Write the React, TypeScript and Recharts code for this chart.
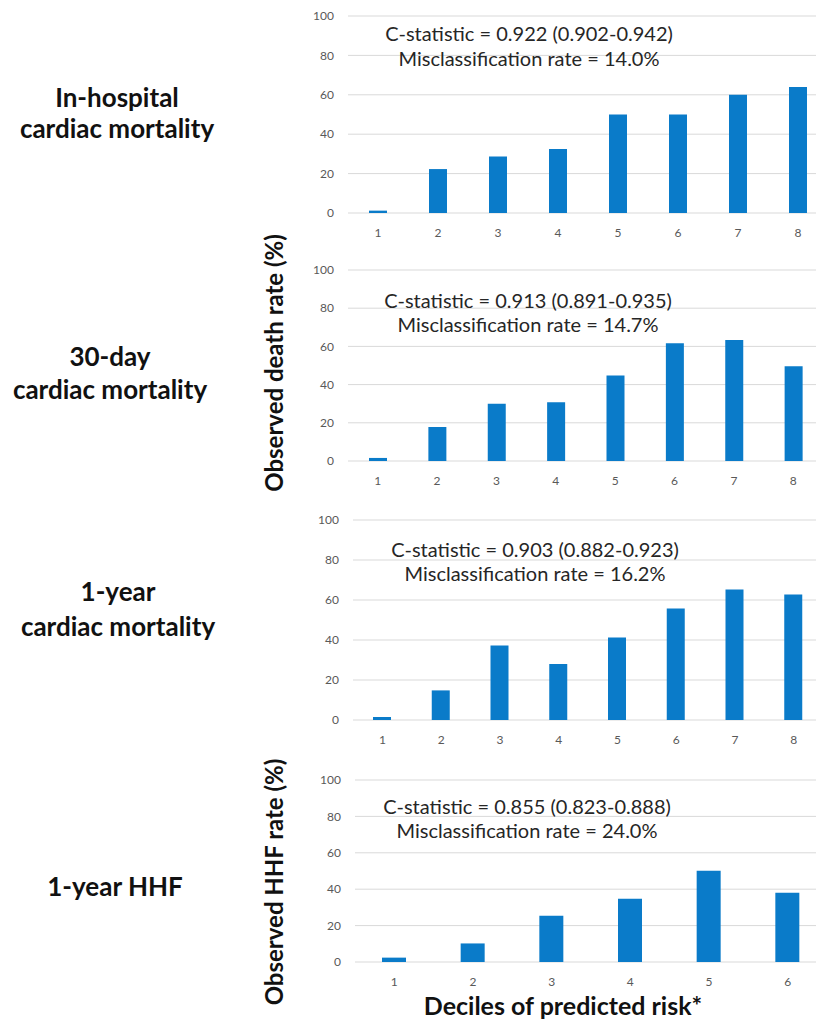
import React from 'react';
import { BarChart, Bar, XAxis, YAxis, CartesianGrid } from 'recharts';

// ---- data ----
const deciles8 = ['1', '2', '3', '4', '5', '6', '7', '8'];
const deciles6 = ['1', '2', '3', '4', '5', '6'];
const yTicks = [0, 20, 40, 60, 80, 100];

const inHospitalRate = [1.2, 22.3, 28.7, 32.5, 50, 50, 60, 64];
const day30Rate = [1.6, 17.8, 30, 30.7, 44.7, 61.6, 63.4, 49.6];
const year1Rate = [1.5, 14.8, 37.2, 28, 41.2, 55.8, 65.2, 62.8];
const hhfRate = [2.4, 10.2, 25.4, 34.7, 50.1, 38];

const statLines = [
  ['C-statistic = 0.922 (0.902-0.942)', 'Misclassification rate = 14.0%'],
  ['C-statistic = 0.913 (0.891-0.935)', 'Misclassification rate = 14.7%'],
  ['C-statistic = 0.903 (0.882-0.923)', 'Misclassification rate = 16.2%'],
  ['C-statistic = 0.855 (0.823-0.888)', 'Misclassification rate = 24.0%'],
];
const panelTitles = [
  ['In-hospital', 'cardiac mortality'],
  ['30-day', 'cardiac mortality'],
  ['1-year', 'cardiac mortality'],
  ['1-year HHF'],
];

// ---- layout ----
const BLUE = '#0a7bc9';
const GRID = '#d9d9d9';
const TICK = '#595959';

const layout = [
  { plotLeft: 348, plotTop: 16, plotW: 480, plotH: 197, barSize: 18, statX: 529, statY: [33, 58], titleX: 117, titleY: [97, 128] },
  { plotLeft: 348, plotTop: 270, plotW: 475, plotH: 191, barSize: 18, statX: 528, statY: [300, 324], titleX: 110, titleY: [356, 389] },
  { plotLeft: 353, plotTop: 520, plotW: 470, plotH: 200, barSize: 18, statX: 535, statY: [549, 573], titleX: 118, titleY: [591, 626] },
  { plotLeft: 355, plotTop: 780, plotW: 472, plotH: 182, barSize: 24, statX: 527, statY: [806, 830], titleX: 115, titleY: [886] },
];
const seriesList = [inHospitalRate, day30Rate, year1Rate, hhfRate];
const catList = [deciles8, deciles8, deciles8, deciles6];

const YW = 48;
const XH = 30;
const MT = 10;

function Panel({ idx }: { idx: number }) {
  const L = layout[idx];
  const cats = catList[idx];
  const vals = seriesList[idx];
  const data = cats.map((c, i) => ({ d: c, v: vals[i] }));
  return (
    <div style={{ position: 'absolute', left: L.plotLeft - YW, top: L.plotTop - MT }}>
      <BarChart
        width={YW + L.plotW}
        height={MT + L.plotH + XH}
        data={data}
        margin={{ top: MT, right: 0, bottom: 0, left: 0 }}
      >
        <CartesianGrid vertical={false} stroke={GRID} strokeWidth={1} />
        <XAxis
          dataKey="d"
          axisLine={false}
          tickLine={false}
          tickSize={0}
          tickMargin={15}
          height={XH}
          interval={0}
          tick={{ fill: TICK, fontSize: 12 }}
        />
        <YAxis
          domain={[0, 100]}
          ticks={yTicks}
          width={YW}
          axisLine={false}
          tickLine={false}
          tickSize={0}
          tickMargin={14}
          tick={{ fill: TICK, fontSize: 12 }}
        />
        <Bar dataKey="v" fill={BLUE} barSize={L.barSize} isAnimationActive={false} />
      </BarChart>
    </div>
  );
}

function CenterText({ x, y, text, size, bold, color }: { x: number; y: number; text: string; size: number; bold?: boolean; color: string }) {
  const lh = Math.round(size * 1.2);
  return (
    <div
      style={{
        position: 'absolute',
        left: x - 200,
        top: y - lh / 2,
        width: 400,
        height: lh,
        lineHeight: lh + 'px',
        textAlign: 'center',
        fontSize: size,
        fontWeight: bold ? 700 : 400,
        color,
        whiteSpace: 'nowrap',
      }}
    >
      {text}
    </div>
  );
}

function RotText({ x, y, text, size }: { x: number; y: number; text: string; size: number }) {
  return (
    <div
      style={{
        position: 'absolute',
        left: x - 200,
        top: y - 16,
        width: 400,
        height: 32,
        lineHeight: '32px',
        textAlign: 'center',
        fontSize: size,
        fontWeight: 700,
        color: '#111',
        whiteSpace: 'nowrap',
        transform: 'rotate(-90deg)',
      }}
    >
      {text}
    </div>
  );
}

export default function App() {
  return (
    <div
      style={{
        position: 'absolute',
        left: 0,
        top: 0,
        width: 816,
        height: 1021,
        overflow: 'hidden',
        background: '#fff',
        fontFamily: 'Lato, "Open Sans", sans-serif',
      }}
    >
      {layout.map((_, i) => (
        <Panel key={'p' + i} idx={i} />
      ))}
      {layout.map((L, i) =>
        statLines[i].map((t, j) => (
          <CenterText key={'s' + i + j} x={L.statX} y={L.statY[j]} text={t} size={20} color="#262626" />
        ))
      )}
      {layout.map((L, i) =>
        panelTitles[i].map((t, j) => (
          <CenterText key={'t' + i + j} x={L.titleX} y={L.titleY[j]} text={t} size={26} bold color="#111" />
        ))
      )}
      <RotText x={274} y={363} text="Observed death rate (%)" size={24} />
      <RotText x={274} y={882} text="Observed HHF rate (%)" size={24} />
      <CenterText x={563} y={1005} text="Deciles of predicted risk*" size={25} bold color="#111" />
    </div>
  );
}
